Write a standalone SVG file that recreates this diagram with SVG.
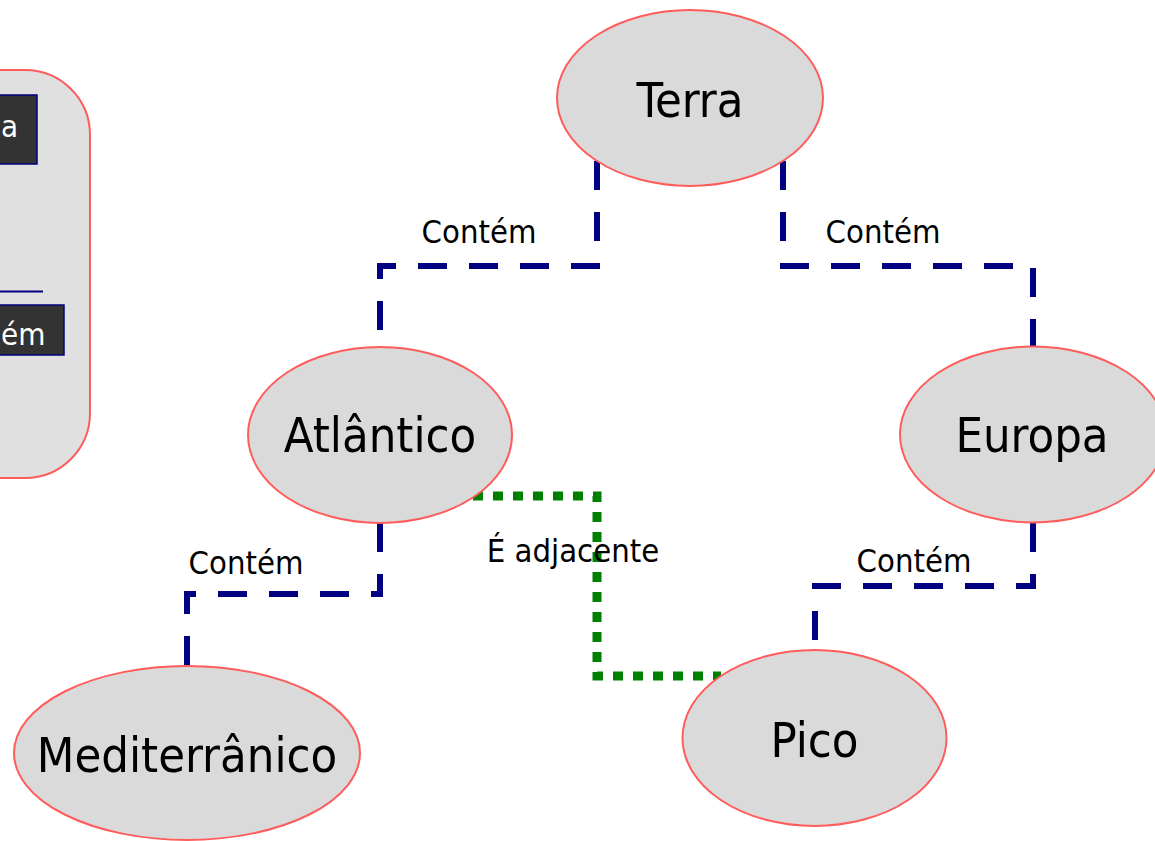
<svg xmlns="http://www.w3.org/2000/svg" width="1155" height="841" viewBox="0 0 1155 841">
<style>
.node ellipse{fill:#dadada;stroke:#ff5c5c;stroke-width:2}
.node text{font-family:"DejaVu Sans Condensed","DejaVu Sans",sans-serif;font-stretch:condensed;font-size:48.5px;fill:#000;text-anchor:middle}
.contem{fill:none;stroke:#000080;stroke-width:6;stroke-dasharray:29 22;stroke-linecap:butt;stroke-linejoin:miter}
.adj{fill:none;stroke:#008000;stroke-width:9;stroke-dasharray:10 10;stroke-linecap:butt;stroke-linejoin:miter}
.lbl{font-family:"DejaVu Sans Condensed","DejaVu Sans",sans-serif;font-stretch:condensed;font-size:32.5px;fill:#000;text-anchor:middle}
.lgbox{fill:#333333;stroke:#000080;stroke-width:1.5}
.lgtxt{font-family:"DejaVu Sans Condensed","DejaVu Sans",sans-serif;font-stretch:condensed;font-size:31px;fill:#fff;text-anchor:start}
</style>
<rect width="1155" height="841" fill="#fff"/>
<g id="legend">
<rect x="-80" y="70" width="170" height="408" rx="65" ry="65" fill="#e0e0e0" stroke="#ff5c5c" stroke-width="2"/>
<rect class="lgbox" x="-40" y="95" width="77" height="69"/>
<text class="lgtxt" x="1" y="137">a</text>
<line x1="-10" y1="291.5" x2="43" y2="291.5" stroke="#000080" stroke-width="2"/>
<rect class="lgbox" x="-40" y="305" width="104" height="50"/>
<text class="lgtxt" x="1" y="345">ém</text>
</g>
<g id="connectors">
<path class="contem" d="M597,161 V266 H380 V347"/>
<path class="contem" d="M783,161 V266 H1033 V346"/>
<path class="contem" d="M380,523 V594 H187 V666"/>
<path class="contem" d="M1033,523 V586 H815 V650"/>
<path class="adj" d="M473,496 H597 V676 H721"/>
<text class="lbl" x="479" y="243">Contém</text>
<text class="lbl" x="883" y="243">Contém</text>
<text class="lbl" x="246" y="574">Contém</text>
<text class="lbl" x="914" y="572">Contém</text>
<text class="lbl" x="573" y="562">É adjacente</text>
</g>
<g id="node-terra" class="node">
<ellipse cx="690" cy="98" rx="133" ry="88"/>
<text x="690" y="117">Terra</text>
</g>
<g id="node-atlantico" class="node">
<ellipse cx="380" cy="435" rx="132" ry="88"/>
<text x="380" y="452">Atlântico</text>
</g>
<g id="node-europa" class="node">
<ellipse cx="1033" cy="434.5" rx="133" ry="88"/>
<text x="1032" y="452">Europa</text>
</g>
<g id="node-mediterranico" class="node">
<ellipse cx="187" cy="753" rx="173" ry="87"/>
<text x="187" y="772">Mediterrânico</text>
</g>
<g id="node-pico" class="node">
<ellipse cx="814.5" cy="738" rx="132" ry="88"/>
<text x="814.5" y="757">Pico</text>
</g>
</svg>
